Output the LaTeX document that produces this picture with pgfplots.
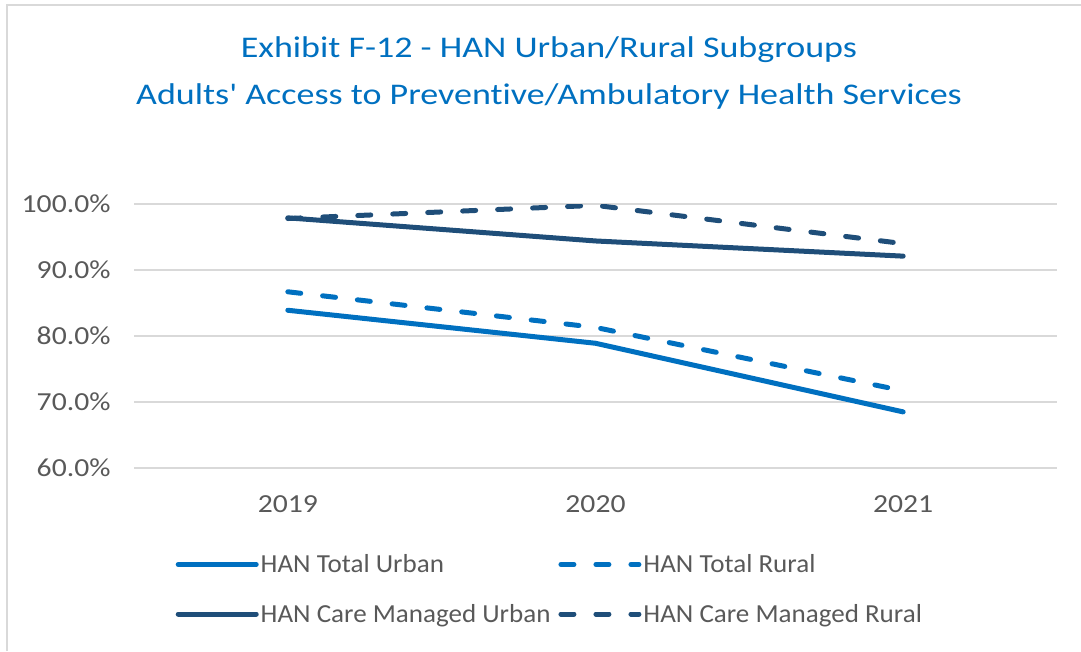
\documentclass[border=0pt]{standalone}
\usepackage{fontspec}
\setmainfont{Carlito}[Ligatures=NoCommon]
\newfontfamily\titlefont{Carlito}[FakeStretch=1.2, Ligatures=NoCommon]
\newfontfamily\tickfont{Carlito}[FakeStretch=1.14]
\newfontfamily\legfont{Carlito}[FakeStretch=1.04, Ligatures=NoCommon]
\usepackage{pgfplots}
\pgfplotsset{compat=1.18}
\definecolor{lightblue}{HTML}{0070C0}
\definecolor{darkblue}{HTML}{1F4E79}
\definecolor{txtgray}{HTML}{595959}
\definecolor{gridgray}{HTML}{D9D9D9}
\begin{document}
\begin{tikzpicture}
\useasboundingbox (0,0) rectangle (1081pt,651pt);
% chart frame (light border)
\draw[gridgray, line width=1.5pt] (7pt,0pt) -- (7pt,646pt) -- (1081pt,646pt);
\node[lightblue, font=\titlefont\fontsize{30}{36}\selectfont] at (549pt,601pt) {Exhibit F-12 - HAN Urban/Rural Subgroups};
\node[lightblue, font=\titlefont\fontsize{30}{36}\selectfont] at (549pt,554pt) {Adults' Access to Preventive/Ambulatory Health Services};
\begin{axis}[
  at={(134pt,183pt)}, anchor=south west,
  scale only axis, width=923pt, height=264pt,
  xmin=-0.5, xmax=2.5, ymin=60, ymax=100,
  xtick={0,1,2}, xticklabels={2019,2020,2021},
  ytick={60,70,80,90,100},
  yticklabel={\pgfmathprintnumber[fixed,fixed zerofill,precision=1]{\tick}\%},
  /pgf/number format/assume math mode=true,
  axis line style={draw=none},
  major tick length=0pt,
  ymajorgrids, grid style={gridgray, line width=1.5pt},
  ticklabel style={font=\tickfont\fontsize{26}{30}\selectfont, text=txtgray},
  yticklabel style={xshift=-20pt},
  xticklabel style={yshift=-24pt},
  legend columns=2,
  legend cell align=left,
  legend style={at={(0.045,-0.32)}, anchor=north west, draw=none, fill=none,
    font=\legfont\fontsize{26}{30}\selectfont, text=txtgray,
    /tikz/every odd column/.append style={column sep=0pt},
    /tikz/every even column/.append style={column sep=6pt},
    row sep=26pt, inner sep=0pt},
  legend image code/.code={\draw[#1] (0pt,0pt) -- (78pt,0pt);},
  every axis plot/.append style={line width=5pt, line cap=round, line join=round},
]
\addplot[lightblue] coordinates {(0,83.9) (1,78.9) (2,68.5)};
\addlegendentry{HAN Total Urban}
\addplot[lightblue, dash pattern=on 13pt off 22pt] coordinates {(0,86.7) (1,81.3) (2,71.7)};
\addlegendentry{HAN Total Rural}
\addplot[darkblue] coordinates {(0,97.9) (1,94.4) (2,92.1)};
\addlegendentry{HAN Care Managed Urban}
\addplot[darkblue, dash pattern=on 13pt off 22pt] coordinates {(0,97.8) (1,99.8) (2,94.0)};
\addlegendentry{HAN Care Managed Rural}
\end{axis}
\end{tikzpicture}
\end{document}
